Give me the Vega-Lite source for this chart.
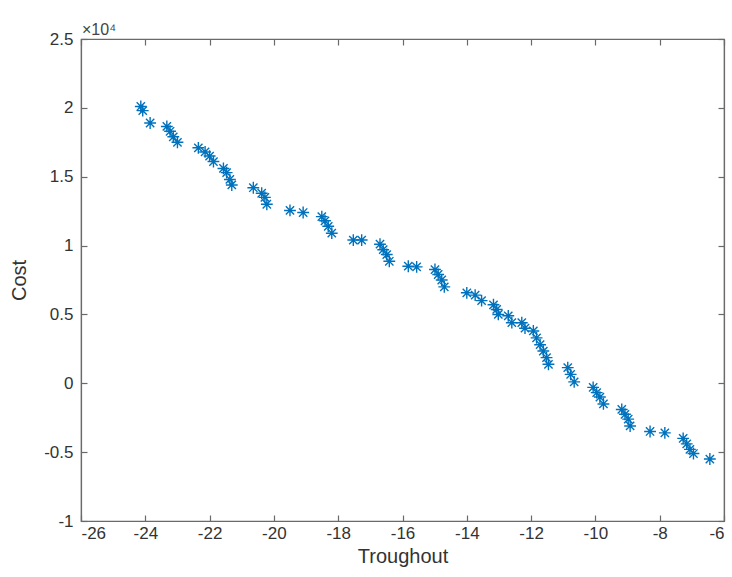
{
  "$schema": "https://vega.github.io/schema/vega-lite/v6.json",
  "width": 643,
  "height": 482,
  "autosize": {"type": "none"},
  "padding": {"left": 81, "top": 39, "right": 8, "bottom": 56},
  "background": "white",
  "config": {
    "view": {"stroke": "#6a6a6a", "strokeWidth": 1.2},
    "axis": {
      "grid": false,
      "domainColor": "#6a6a6a",
      "domainWidth": 1.2,
      "tickColor": "#6a6a6a",
      "tickWidth": 1.2,
      "labelColor": "#333333",
      "titleColor": "#333333",
      "labelFont": "Liberation Sans",
      "titleFont": "Liberation Sans",
      "labelFontSize": 17,
      "titleFontSize": 20,
      "titleFontWeight": "normal",
      "tickSize": -6
    }
  },
  "title": {
    "text": "×10⁴",
    "anchor": "start",
    "frame": "group",
    "offset": -8,
    "dx": 1,
    "fontSize": 16,
    "fontWeight": "normal",
    "font": "Liberation Sans",
    "color": "#444444"
  },
  "data": {
    "values": [
      {"troughout": -24.14, "cost": 20100},
      {"troughout": -24.08, "cost": 19800},
      {"troughout": -23.85, "cost": 18900},
      {"troughout": -23.33, "cost": 18650},
      {"troughout": -23.23, "cost": 18300},
      {"troughout": -23.13, "cost": 17900},
      {"troughout": -23.0, "cost": 17500},
      {"troughout": -22.35, "cost": 17100},
      {"troughout": -22.14, "cost": 16800},
      {"troughout": -22.0, "cost": 16500},
      {"troughout": -21.88, "cost": 16100},
      {"troughout": -21.57, "cost": 15600},
      {"troughout": -21.47, "cost": 15300},
      {"troughout": -21.37, "cost": 14800},
      {"troughout": -21.31, "cost": 14400},
      {"troughout": -20.64, "cost": 14200},
      {"troughout": -20.38, "cost": 13800},
      {"troughout": -20.28, "cost": 13500},
      {"troughout": -20.22, "cost": 13000},
      {"troughout": -19.5, "cost": 12550},
      {"troughout": -19.09, "cost": 12400},
      {"troughout": -18.51, "cost": 12100},
      {"troughout": -18.41, "cost": 11800},
      {"troughout": -18.31, "cost": 11400},
      {"troughout": -18.2, "cost": 10900},
      {"troughout": -17.53, "cost": 10400},
      {"troughout": -17.27, "cost": 10400},
      {"troughout": -16.7, "cost": 10100},
      {"troughout": -16.6, "cost": 9700},
      {"troughout": -16.49, "cost": 9350},
      {"troughout": -16.41, "cost": 8860},
      {"troughout": -15.82, "cost": 8500},
      {"troughout": -15.56, "cost": 8450},
      {"troughout": -14.99, "cost": 8260},
      {"troughout": -14.89, "cost": 7900},
      {"troughout": -14.78, "cost": 7500},
      {"troughout": -14.7, "cost": 7000},
      {"troughout": -14.0, "cost": 6570},
      {"troughout": -13.74, "cost": 6400},
      {"troughout": -13.54, "cost": 6000},
      {"troughout": -13.17, "cost": 5700},
      {"troughout": -13.07, "cost": 5360},
      {"troughout": -13.02, "cost": 5000},
      {"troughout": -12.71, "cost": 4900},
      {"troughout": -12.6, "cost": 4400},
      {"troughout": -12.29, "cost": 4400},
      {"troughout": -12.19, "cost": 4000},
      {"troughout": -11.93, "cost": 3800},
      {"troughout": -11.83, "cost": 3300},
      {"troughout": -11.72, "cost": 2800},
      {"troughout": -11.62, "cost": 2340},
      {"troughout": -11.52, "cost": 1860},
      {"troughout": -11.46, "cost": 1380},
      {"troughout": -10.86, "cost": 1140},
      {"troughout": -10.77, "cost": 650},
      {"troughout": -10.66, "cost": 100},
      {"troughout": -10.07, "cost": -300},
      {"troughout": -9.96, "cost": -680},
      {"troughout": -9.86, "cost": -1000},
      {"troughout": -9.75, "cost": -1500},
      {"troughout": -9.18, "cost": -1900},
      {"troughout": -9.08, "cost": -2250},
      {"troughout": -8.98, "cost": -2600},
      {"troughout": -8.92, "cost": -3100},
      {"troughout": -8.3, "cost": -3500},
      {"troughout": -7.84, "cost": -3600},
      {"troughout": -7.27, "cost": -4000},
      {"troughout": -7.16, "cost": -4400},
      {"troughout": -7.06, "cost": -4800},
      {"troughout": -6.95, "cost": -5100},
      {"troughout": -6.44, "cost": -5500}
    ]
  },
  "layer": [
    {
      "mark": {
        "type": "point",
        "shape": "M-1,0L1,0M0,-1L0,1M-0.7,-0.7L0.7,0.7M-0.7,0.7L0.7,-0.7",
        "filled": false,
        "stroke": "#0072BD",
        "strokeWidth": 1.4,
        "size": 140,
        "opacity": 1
      },
      "encoding": {
        "x": {
          "field": "troughout",
          "type": "quantitative",
          "scale": {"domain": [-26, -6], "nice": false, "zero": false},
          "axis": {
            "values": [-26, -24, -22, -20, -18, -16, -14, -12, -10, -8, -6],
            "labelExpr": "'' + datum.value",
            "title": "Troughout",
            "labelPadding": 10,
            "titlePadding": 5
          }
        },
        "y": {
          "field": "cost",
          "type": "quantitative",
          "scale": {"domain": [-10000, 25000], "nice": false, "zero": false},
          "axis": {
            "values": [-10000, -5000, 0, 5000, 10000, 15000, 20000, 25000],
            "labelExpr": "'' + (datum.value / 10000)",
            "title": "Cost",
            "labelPadding": 14,
            "titlePadding": 14
          }
        }
      }
    },
    {
      "mark": {"type": "point", "opacity": 0},
      "encoding": {
        "x": {
          "field": "troughout",
          "type": "quantitative",
          "axis": {
            "orient": "top",
            "values": [-26, -24, -22, -20, -18, -16, -14, -12, -10, -8, -6],
            "labels": false,
            "title": null
          }
        },
        "y": {
          "field": "cost",
          "type": "quantitative",
          "axis": {
            "orient": "right",
            "values": [-10000, -5000, 0, 5000, 10000, 15000, 20000, 25000],
            "labels": false,
            "title": null
          }
        }
      }
    }
  ],
  "resolve": {"axis": {"x": "independent", "y": "independent"}}
}
